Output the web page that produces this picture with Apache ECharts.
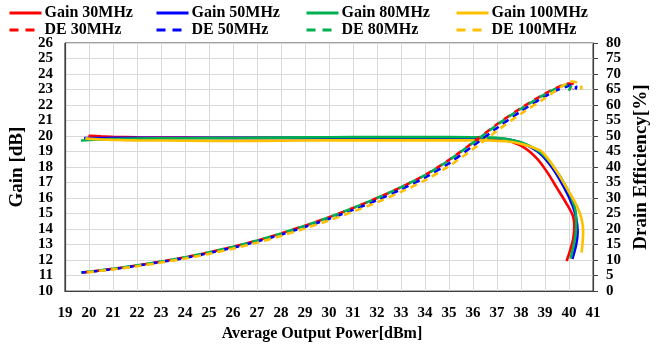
<!DOCTYPE html>
<html>
<head>
<meta charset="utf-8">
<script src="https://cdn.jsdelivr.net/npm/echarts@6/dist/echarts.min.js"></script>
<style>html,body{margin:0;padding:0;background:#fff}#c{width:659px;height:347px}</style>
</head>
<body>
<div id="c"></div>
<script>
// ---- data ----
var xTicks = [19, 41, 1];
var gainTicks = [10, 26, 1];
var deTicks = [0, 80, 5];

var gain30X = [19.98, 20.5, 21, 22, 24, 26, 28, 30, 32, 34, 35, 36, 36.7, 37.4, 38.1, 38.66, 39.07, 39.49, 39.9, 40.15, 40.22, 40.18, 40.04, 39.9];
var gain30Y = [20.02, 19.98, 19.95, 19.92, 19.9, 19.88, 19.88, 19.88, 19.88, 19.88, 19.87, 19.87, 19.85, 19.71, 19.29, 18.56, 17.72, 16.67, 15.63, 14.9, 14.27, 13.43, 12.6, 11.94];

var gain50X = [19.8, 20.5, 21, 22, 24, 26, 28, 30, 32, 34, 36, 36.7, 37.4, 38.05, 38.72, 39.28, 39.8, 40.15, 40.3, 40.36, 40.3, 40.14];
var gain50Y = [19.87, 19.87, 19.88, 19.88, 19.88, 19.88, 19.88, 19.89, 19.9, 19.9, 19.88, 19.86, 19.79, 19.54, 18.97, 18.0, 16.67, 15.52, 14.69, 13.85, 13.0, 12.07];

var gain80X = [19.67, 20, 21, 22, 24, 26, 28, 30, 32, 34, 36, 36.71, 37.41, 38.1, 38.79, 39.35, 39.9, 40.22, 40.3, 40.29, 40.2, 40.07];
var gain80Y = [19.71, 19.74, 19.8, 19.83, 19.86, 19.87, 19.9, 19.92, 19.93, 19.93, 19.92, 19.9, 19.81, 19.54, 18.97, 18.03, 16.67, 15.52, 14.69, 13.85, 13.0, 12.1];

var gain100X = [19.85, 20.5, 21, 22, 24, 26, 28, 30, 32, 34, 36, 36.71, 37.41, 38.1, 38.79, 39.07, 39.49, 39.9, 40.32, 40.52, 40.59, 40.56, 40.52];
var gain100Y = [19.85, 19.78, 19.75, 19.72, 19.7, 19.68, 19.7, 19.72, 19.72, 19.72, 19.72, 19.71, 19.66, 19.46, 19.08, 18.66, 17.72, 16.67, 15.52, 14.69, 13.85, 13.0, 12.49];

var de30X = [19.7, 20, 21, 22, 23, 24, 25, 26, 27, 28, 29, 30, 31, 32, 33, 34, 35, 36, 37, 38, 39, 39.5, 40.0, 40.2, 40.22, 40.15];
var de30Y = [6.0, 6.2, 7.2, 8.3, 9.5, 10.9, 12.5, 14.3, 16.3, 18.6, 21.1, 23.8, 26.8, 30.0, 33.5, 37.4, 42.3, 47.9, 53.8, 59.0, 63.7, 65.6, 66.9, 66.7, 66.0, 65.0];

var de50X = [19.7, 20, 21, 22, 23, 24, 25, 26, 27, 28, 29, 30, 31, 32, 33, 34, 35, 36, 37, 38, 39, 39.5, 40.0, 40.25, 40.3, 40.27];
var de50Y = [6.0, 6.2, 7.1, 8.2, 9.4, 10.7, 12.3, 14.0, 16.0, 18.2, 20.7, 23.3, 26.2, 29.3, 32.8, 36.6, 41.2, 46.8, 52.6, 58.0, 62.8, 64.8, 66.2, 66.5, 65.8, 65.0];

var de80X = [19.67, 20, 21, 22, 23, 24, 25, 26, 27, 28, 29, 30, 31, 32, 33, 34, 35, 36, 37, 38, 39, 39.5, 40.0, 40.1, 40.05, 40.0];
var de80Y = [6.0, 6.25, 7.2, 8.3, 9.5, 10.9, 12.5, 14.3, 16.3, 18.6, 21.1, 23.8, 26.8, 30.0, 33.5, 37.4, 42.2, 47.8, 53.6, 58.8, 63.5, 65.5, 66.6, 66.5, 65.5, 64.6];

var de100X = [19.8, 20, 21, 22, 23, 24, 25, 26, 27, 28, 29, 30, 31, 32, 33, 34, 35, 36, 37, 38, 39, 39.5, 39.8, 40.1, 40.35, 40.5, 40.52];
var de100Y = [6.0, 6.1, 7.0, 8.0, 9.2, 10.5, 12.0, 13.7, 15.6, 17.8, 20.2, 22.8, 25.6, 28.6, 32.0, 35.7, 40.3, 45.8, 51.7, 57.2, 62.2, 64.9, 66.5, 67.6, 67.2, 66.3, 65.0];

var names = ['Gain 30MHz', 'Gain 50MHz', 'Gain 80MHz', 'Gain 100MHz', 'DE 30MHz', 'DE 50MHz', 'DE 80MHz', 'DE 100MHz'];
var colors = ['#FF0000', '#0000FF', '#00B050', '#FFC000'];

function pairs(xs, ys) { return xs.map(function (x, i) { return [x, ys[i]]; }); }

var FONT = 'Liberation Serif';
var chart = echarts.init(document.getElementById('c'), null, { renderer: 'canvas' });

var gainData = [pairs(gain30X, gain30Y), pairs(gain50X, gain50Y), pairs(gain80X, gain80Y), pairs(gain100X, gain100Y)];
var deData = [pairs(de30X, de30Y), pairs(de50X, de50Y), pairs(de80X, de80Y), pairs(de100X, de100Y)];

var series = [];
for (var i = 0; i < 4; i++) {
  series.push({
    name: names[i], type: 'line', yAxisIndex: 0, data: gainData[i],
    symbol: 'none', smooth: 0.3, z: 2,
    lineStyle: { color: colors[i], width: 2.6 }, itemStyle: { color: colors[i] }
  });
}
var offs = [0, 3, 6, 9];
for (var j = 0; j < 4; j++) {
  series.push({
    name: names[4 + j], type: 'line', yAxisIndex: 1, data: deData[j],
    symbol: 'none', smooth: 0.3, z: 3,
    lineStyle: { color: colors[j], width: 2.6, type: [7, 5], dashOffset: offs[j] }, itemStyle: { color: colors[j] }
  });
}

var legendX = [8, 155, 305, 455];
var legends = [];
for (var k = 0; k < 8; k++) {
  legends.push({
    data: [names[k]], left: legendX[k % 4], top: k < 4 ? 5 : 22,
    itemWidth: 32, itemHeight: 14, padding: 0,
    itemStyle: { opacity: 0, borderWidth: 0 },
    lineStyle: { width: 3, type: k < 4 ? 'solid' : [9, 7], dashOffset: 0 },
    textStyle: { fontFamily: FONT, fontWeight: 'bold', fontSize: 16, color: '#000', padding: [0, 0, 0, -2] }
  });
}

chart.setOption({
  animation: false,
  backgroundColor: '#fff',
  legend: legends,
  grid: { left: 64, right: 66, top: 43, bottom: 49, show: true, borderColor: '#404040', borderWidth: 1, containLabel: false },
  xAxis: {
    type: 'value', min: xTicks[0], max: xTicks[1], interval: xTicks[2],
    name: 'Average Output Power[dBm]', nameLocation: 'middle', nameGap: 33,
    nameTextStyle: { fontFamily: FONT, fontWeight: 'bold', fontSize: 16, color: '#000', padding: [0, 14, 0, 0] },
    axisLine: { lineStyle: { color: '#404040', width: 1.2 } },
    axisTick: { show: false },
    axisLabel: { fontFamily: FONT, fontWeight: 'bold', fontSize: 15, color: '#000', margin: 15 },
    splitLine: { show: true, lineStyle: { color: '#D9D9D9', width: 1 } }
  },
  yAxis: [{
    type: 'value', min: gainTicks[0], max: gainTicks[1], interval: gainTicks[2], position: 'left',
    name: 'Gain [dB]', nameLocation: 'middle', nameGap: 29, nameRotate: 90,
    nameTextStyle: { fontFamily: FONT, fontWeight: 'bold', fontSize: 19, color: '#000' },
    axisLine: { show: true, lineStyle: { color: '#404040', width: 1.2 } },
    axisTick: { show: false },
    axisLabel: { fontFamily: FONT, fontWeight: 'bold', fontSize: 15, color: '#000', margin: 12 },
    splitLine: { show: true, lineStyle: { color: '#D9D9D9', width: 1 } }
  }, {
    type: 'value', min: deTicks[0], max: deTicks[1], interval: deTicks[2], position: 'right',
    name: 'Drain Efficiency[%]', nameLocation: 'middle', nameGap: 33, nameRotate: 90,
    nameTextStyle: { fontFamily: FONT, fontWeight: 'bold', fontSize: 19, color: '#000' },
    axisLine: { show: true, lineStyle: { color: '#404040', width: 1.2 } },
    axisTick: { show: true, inside: false, length: 5, lineStyle: { color: '#404040' } },
    axisLabel: { fontFamily: FONT, fontWeight: 'bold', fontSize: 15, color: '#000', margin: 13 },
    splitLine: { show: false }
  }],
  series: series
});
</script>
</body>
</html>
